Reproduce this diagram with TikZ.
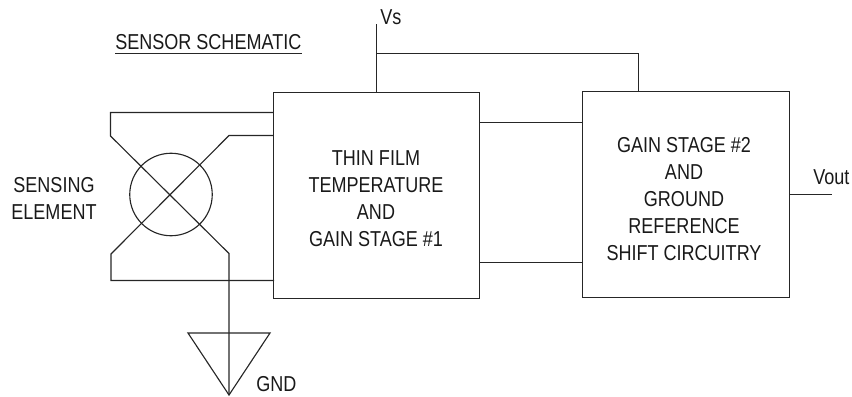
\documentclass[tikz,border=0pt]{standalone}
\usepackage{fontspec}
\setmainfont[FakeStretch=0.835]{Liberation Sans}
\tikzset{
  wire/.style={draw=black!85,line width=0.85pt,line join=miter},
  block/.style={draw=black!85,line width=0.85pt,inner sep=0pt},
  lbl/.style={inner sep=0pt,font=\fontsize{16.2}{20.1}\selectfont,text=black!90,align=center}
}
\begin{document}
\begin{tikzpicture}[x=0.75pt,y=-0.75pt]
\useasboundingbox (0,0) rectangle (852,396);
\node[block,minimum width=206*0.75pt,minimum height=206*0.75pt] (one) at (376.5,195.5) {};
\node[block,minimum width=207*0.75pt,minimum height=206*0.75pt] (two) at (686,194.5) {};
\coordinate (vs) at (376.5,24);
\coordinate (vsj) at (376.5,53.5);
\coordinate (p2) at (638.5,53.5);
\draw[wire] (vs) -- (376.5,92);
\draw[wire] (vsj) -- (p2) -- (638.5,91.5);
\draw[wire] (479.5,122.5) -- (582.5,122.5);
\draw[wire] (479.5,262.5) -- (582.5,262.5);
\draw[wire] (789.5,194.5) -- (832,194.5);
\node[draw=black!85,line width=0.85pt,circle,minimum size=82.5*0.75pt,inner sep=0pt] (elem) at (171,194.5) {};
\draw[wire] (273.5,112.5) -- (110.5,112.5) -- (110.5,136) -- (229,253.5) -- (229,395);
\draw[wire] (273.5,135.5) -- (229,135.5) -- (111,254) -- (111,280.5) -- (274,280.5);
\draw[wire] (188,333) -- (270,333) -- (229,395) -- cycle;
\node[lbl,anchor=base west] (t1) at (115,49) {SENSOR SCHEMATIC};
\draw[wire,line width=0.75pt] (115,53.5) -- (302,53.5);
\node[lbl,anchor=base west] (t2) at (380,24) {Vs};
\node[lbl,anchor=base west] (t3) at (256,391) {GND};
\node[lbl,anchor=base] (t4a) at (54,192) {SENSING};
\node[lbl,anchor=base] (t4b) at (54,219) {ELEMENT};
\node[lbl,anchor=base west] (t5) at (813,184.5) {Vout};
\node[lbl,anchor=base] (t6a) at (376,165) {THIN FILM};
\node[lbl,anchor=base] (t6b) at (376,192) {TEMPERATURE};
\node[lbl,anchor=base] (t6c) at (376,219) {AND};
\node[lbl,anchor=base] (t6d) at (376,246) {GAIN STAGE \#1};
\node[lbl,anchor=base] (t7a) at (684,152) {GAIN STAGE \#2};
\node[lbl,anchor=base] (t7b) at (684,179) {AND};
\node[lbl,anchor=base] (t7c) at (684,206) {GROUND};
\node[lbl,anchor=base] (t7d) at (684,233) {REFERENCE};
\node[lbl,anchor=base] (t7e) at (684,260) {SHIFT CIRCUITRY};
\end{tikzpicture}
\end{document}
